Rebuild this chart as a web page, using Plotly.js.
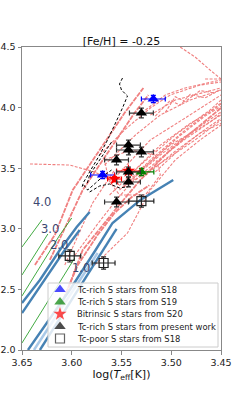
<!DOCTYPE html>
<html>
<head>
<meta charset="utf-8">
<script src="https://cdn.plot.ly/plotly-3.0.1.min.js"></script>
<style>html,body{margin:0;padding:0;background:#fff;}#chart{width:247px;height:394px;}</style>
</head>
<body>
<div id="chart"></div>
<script>
// ---------------- DATA (log Teff, log L) ----------------
// Evolutionary tracks (light coral, dashed) - main bands (drawn heavier)
const agbTrack01T = [3.637,3.617,3.599,3.572,3.547,3.528];
const agbTrack01L = [2.701,2.949,3.320,3.650,3.955,4.162];
const agbTrack02T = [3.622,3.589,3.562,3.537,3.523];
const agbTrack02L = [2.743,3.320,3.650,3.955,4.104];
const agbTrack03T = [3.612,3.589,3.554,3.531,3.501,3.471,3.450];
const agbTrack03L = [2.330,2.825,3.180,3.403,3.650,3.856,3.997];
const agbTrack20T = [3.613,3.594,3.574,3.557,3.540,3.522];
const agbTrack20L = [2.330,2.700,2.950,3.130,3.260,3.360];
// finer tracks
const agbTrack04T = [3.577,3.544,3.521,3.496,3.471,3.450];
const agbTrack04L = [2.701,2.965,3.320,3.568,3.733,3.856];
const agbTrack05T = [3.607,3.579,3.557];
const agbTrack05L = [2.701,3.213,3.485];
const agbTrack06T = [3.552,3.521,3.486,3.450];
const agbTrack06L = [3.320,3.568,3.815,4.038];
const agbTrack07T = [3.546,3.511,3.481,3.450];
const agbTrack07L = [3.361,3.609,3.790,3.964];
const agbTrack08T = [3.536,3.506,3.476,3.450];
const agbTrack08L = [3.403,3.568,3.733,3.898];
const agbTrack09T = [3.562,3.531,3.496,3.461,3.450];
const agbTrack09L = [3.279,3.526,3.774,3.980,4.063];
const agbTrack10T = [3.531,3.501,3.471,3.450];
const agbTrack10L = [3.485,3.691,3.832,3.939];
const agbTrack11T = [3.557,3.521,3.486,3.450];
const agbTrack11L = [3.419,3.733,3.914,4.104];
const agbTrack12T = [3.572,3.547,3.521,3.501,3.471,3.450];
const agbTrack12L = [3.609,3.815,3.997,4.104,4.186,4.211];
const agbTrack13T = [3.567,3.536,3.511,3.481,3.450];
const agbTrack13L = [3.526,3.774,3.939,4.063,4.145];
const agbTrack14T = [3.526,3.506,3.486,3.450];
const agbTrack14L = [3.980,4.104,4.162,4.228];
const agbTrack15T = [3.521,3.496,3.450];
const agbTrack15L = [3.939,4.063,4.162];
const agbTrack16T = [3.491,3.476,3.461,3.450];
const agbTrack16L = [4.500,4.417,4.310,4.236];
const agbTrack17T = [3.466,3.450];
const agbTrack17L = [4.236,4.236];
const agbTrack18T = [3.642,3.602,3.577,3.552];
const agbTrack18L = [3.535,3.526,3.469,3.361];
const agbTrack19T = [3.567,3.541,3.516,3.511,3.526,3.552,3.563,3.567];
const agbTrack19L = [3.568,3.650,3.609,3.444,3.279,3.279,3.403,3.568];
const agbTrack21T = [3.548,3.516,3.491,3.466,3.450];
const agbTrack21L = [3.340,3.590,3.770,3.930,4.010];
const agbTrack22T = [3.540,3.511,3.486,3.461,3.450];
const agbTrack22L = [3.380,3.580,3.740,3.880,3.950];
const agbTrack23T = [3.526,3.496,3.466,3.450];
const agbTrack23L = [3.440,3.640,3.820,3.910];
const agbTrack24T = [3.516,3.491,3.471,3.450];
const agbTrack24L = [3.470,3.660,3.790,3.870];
const agbTrack25T = [3.541,3.511,3.481,3.456,3.450];
const agbTrack25L = [3.450,3.690,3.870,3.990,4.030];
const agbTrack26T = [3.516,3.501,3.491,3.481,3.466,3.450];
const agbTrack26L = [3.930,4.060,4.020,4.110,4.080,4.150];
const agbTrack27T = [3.506,3.496,3.486,3.471,3.456];
const agbTrack27L = [3.960,4.090,4.050,4.140,4.120];
const agbTrack28T = [3.597,3.574,3.554,3.536];
const agbTrack28L = [2.780,3.040,3.250,3.420];

// Green lines
const greenLine1T = [3.650,3.630];
const greenLine1L = [2.850,3.073];
const greenLine2T = [3.650,3.624];
const greenLine2L = [2.619,2.957];
const greenLine3T = [3.650,3.632,3.612,3.600];
const greenLine3L = [2.446,2.685,2.949,3.089];
const greenLine4T = [3.650,3.597];
const greenLine4L = [2.058,2.759];

// Blue (RGB) tracks
const rgbTrackA1T = [3.650,3.632,3.612,3.595,3.582];
const rgbTrackA1L = [2.388,2.578,2.825,3.015,3.139];
const rgbTrackA2T = [3.650,3.627,3.607,3.592];
const rgbTrackA2L = [2.305,2.578,2.825,2.990];
const rgbTrackB1T = [3.644,3.602,3.576,3.559,3.531,3.514,3.498];
const rgbTrackB1L = [2.000,2.495,2.825,3.048,3.238,3.320,3.403];
const rgbTrackB2T = [3.632,3.594,3.572,3.555];
const rgbTrackB2L = [2.000,2.495,2.784,3.000];
const rgbTrackB3T = [3.638,3.598,3.574];
const rgbTrackB3L = [2.000,2.495,2.800];

// Black dashed track
const dashTrack1T = [3.549,3.552,3.550,3.544,3.549,3.557,3.564,3.572,3.580,3.588,3.590];
const dashTrack1L = [4.244,4.195,4.145,4.096,3.997,3.856,3.733,3.609,3.502,3.386,3.337];
const dashTrack2T = [3.588,3.584,3.576,3.567,3.560];
const dashTrack2L = [3.361,3.320,3.378,3.444,3.485];
const dashTrack3T = [3.582,3.572,3.562,3.552,3.540];
const dashTrack3L = [3.304,3.353,3.370,3.337,3.353];
const dashTrack4T = [3.560,3.572,3.582,3.585];
const dashTrack4L = [3.716,3.568,3.444,3.361];

// Stars
const s18RichT = [3.518,3.569];
const s18RichL = [4.071,3.444];
const s18RichTerr = [0.012,0.012];
const s18RichLerr = [0.03,0.03];

const s19RichT = [3.530];
const s19RichL = [3.469];
const s19RichTerr = [0.0125];
const s19RichLerr = [0.03];

const s20BitT = [3.557,3.543];
const s20BitL = [3.411,3.477];
const s20BitTerr = [0.007,0.012];
const s20BitLerr = [0.02,0.02];

const presentT = [3.530,3.543,3.543,3.530,3.555,3.543,3.543,3.555];
const presentL = [3.955,3.691,3.650,3.634,3.568,3.469,3.386,3.221];
const presentTerr = [0.012,0.012,0.012,0.012,0.012,0.012,0.012,0.012];
const presentLerr = [0.04,0.04,0.04,0.04,0.04,0.04,0.04,0.04];

const s18PoorT = [3.530,3.602,3.568];
const s18PoorL = [3.229,2.776,2.718];
const s18PoorTerr = [0.0125,0.011,0.0115];
const s18PoorLerr = [0.05,0.05,0.05];

// Mass labels
const massLabels = ['4.0','3.0','2.0','1.0'];
const massLabelT = [3.630,3.622,3.613,3.591];
const massLabelL = [3.221,2.998,2.866,2.676];

// Legend text
const legendNames = ['Tc-rich S stars from S18','Tc-rich S stars from S19','Bitrinsic S stars from S20','Tc-rich S stars from present work','Tc-poor S stars from S18'];

// Axis ticks
const xTicks = [3.65,3.60,3.55,3.50,3.45];
const yTicks = [2.0,2.5,3.0,3.5,4.0,4.5];

// ---------------- BUILD ----------------
const FONT = 'DejaVu Sans, Arial, sans-serif';
const traces = [];
function addLine(t, l, color, width, dash, opacity) {
  traces.push({type:'scatter', mode:'lines', x:t, y:l, line:{color:color, width:width, dash:dash},
    opacity:opacity, hoverinfo:'skip', showlegend:false});
}
const agbBands = [[agbTrack01T,agbTrack01L],[agbTrack02T,agbTrack02L],[agbTrack03T,agbTrack03L],[agbTrack20T,agbTrack20L]];
const agbFine = [
  [agbTrack04T,agbTrack04L],[agbTrack05T,agbTrack05L],[agbTrack06T,agbTrack06L],[agbTrack07T,agbTrack07L],
  [agbTrack08T,agbTrack08L],[agbTrack09T,agbTrack09L],[agbTrack10T,agbTrack10L],[agbTrack11T,agbTrack11L],
  [agbTrack12T,agbTrack12L],[agbTrack13T,agbTrack13L],[agbTrack14T,agbTrack14L],[agbTrack15T,agbTrack15L],
  [agbTrack16T,agbTrack16L],[agbTrack17T,agbTrack17L],[agbTrack18T,agbTrack18L],[agbTrack19T,agbTrack19L],
  [agbTrack21T,agbTrack21L],[agbTrack22T,agbTrack22L],[agbTrack23T,agbTrack23L],[agbTrack24T,agbTrack24L],
  [agbTrack25T,agbTrack25L],[agbTrack26T,agbTrack26L],[agbTrack27T,agbTrack27L],[agbTrack28T,agbTrack28L]
];
agbFine.forEach(function(tr){ addLine(tr[0], tr[1], '#f08080', 1.1, '3px,1.5px', 1); });
agbBands.forEach(function(tr){ addLine(tr[0], tr[1], '#f08080', 1.8, '5px,1px', 1); });

[[greenLine1T,greenLine1L],[greenLine2T,greenLine2L],[greenLine3T,greenLine3L],[greenLine4T,greenLine4L]]
  .forEach(function(tr){ addLine(tr[0], tr[1], '#2ca02c', 0.9, 'solid', 1); });

addLine(rgbTrackB3T, rgbTrackB3L, '#a9c9e8', 2.5, 'solid', 1);
[[rgbTrackA1T,rgbTrackA1L],[rgbTrackA2T,rgbTrackA2L],[rgbTrackB1T,rgbTrackB1L],[rgbTrackB2T,rgbTrackB2L]]
  .forEach(function(tr){ addLine(tr[0], tr[1], '#4682b4', 2.4, 'solid', 1); });

[[dashTrack1T,dashTrack1L],[dashTrack2T,dashTrack2L],[dashTrack3T,dashTrack3L],[dashTrack4T,dashTrack4L]]
  .forEach(function(tr){ addLine(tr[0], tr[1], '#000000', 1, '3px,2px', 1); });

function addStars(t, l, te, le, color, symbol, size, barColor) {
  traces.push({type:'scatter', mode:'markers', x:t, y:l, hoverinfo:'skip', showlegend:false,
    marker:{symbol:symbol, size:size, color:color, line:{width: symbol==='square-open'?1.2:0, color:color}},
    error_x:{type:'data', array:te, color:barColor, thickness:1.2, width:2.5},
    error_y:{type:'data', array:le, color:barColor, thickness:1.2, width:2.5}});
}
addStars(s18RichT, s18RichL, s18RichTerr, s18RichLerr, '#0000ff', 'triangle-up', 10, '#0000ff');
addStars(s19RichT, s19RichL, s19RichTerr, s19RichLerr, '#008000', 'triangle-up', 10, '#008000');
addStars(s20BitT, s20BitL, s20BitTerr, s20BitLerr, '#ff0000', 'star', 10, '#ff0000');
addStars(presentT, presentL, presentTerr, presentLerr, '#000000', 'triangle-up', 10, '#333333');
addStars(s18PoorT, s18PoorL, s18PoorTerr, s18PoorLerr, '#222222', 'square-open', 9, '#222222');

// ----- Legend drawn on a pixel-unit overlay axis -----
const legBoxX = [48,218,218,48,48];
const legBoxY = [283,283,347,347,283];
traces.push({type:'scatter', mode:'lines', x:legBoxX, y:legBoxY, xaxis:'x2', yaxis:'y2',
  fill:'toself', fillcolor:'rgba(255,255,255,0.82)', line:{color:'#cccccc', width:1},
  hoverinfo:'skip', showlegend:false});
const legRowY = [289.5,302,314,326.5,338.5];
traces.push({type:'scatter', mode:'markers', x:[60,60,60,60,60], y:legRowY, xaxis:'x2', yaxis:'y2',
  hoverinfo:'skip', showlegend:false,
  marker:{symbol:['triangle-up','triangle-up','star','triangle-up','square-open'],
    size:[10,10,10,10,9], color:['#0000ff','#008000','#ff0000','#000000','#222222'],
    line:{width:[0,0,0,0,1.2], color:'#222222'}}});

const annotations = [];
massLabels.forEach(function(txt,i){
  annotations.push({x:massLabelT[i], y:massLabelL[i], xref:'x', yref:'y', text:txt, showarrow:false,
    xanchor:'center', yanchor:'middle', font:{family:FONT, size:11.5, color:'#3b4770'}});
});
legendNames.forEach(function(txt,i){
  annotations.push({x:75, y:legRowY[i], xref:'x2', yref:'y2', text:txt, showarrow:false,
    xanchor:'left', yanchor:'middle', font:{family:FONT, size:8.4, color:'#222222'}});
});

const layout = {
  width:247, height:394,
  margin:{l:22, r:26, t:47, b:44, pad:0},
  paper_bgcolor:'#ffffff', plot_bgcolor:'#ffffff',
  showlegend:false,
  font:{family:FONT, size:9.5, color:'#222222'},
  title:{text:'[Fe/H] = -0.25', font:{family:FONT, size:11, color:'#111111'},
    x:0.5, xref:'paper', xanchor:'center', y:1, yref:'paper', yanchor:'bottom', pad:{b:2}},
  xaxis:{range:[3.65,3.45], tickvals:xTicks, ticktext:xTicks.map(function(v){return v.toFixed(2);}),
    showgrid:false, zeroline:false, showline:true, mirror:true, linecolor:'#888888', linewidth:1,
    ticks:'outside', ticklen:3.5, tickwidth:1, tickcolor:'#888888',
    tickfont:{family:FONT, size:9.5, color:'#222222'},
    title:{text:'log(<i>T</i><sub>eff</sub>[K])', font:{family:FONT, size:11, color:'#111111'}, standoff:2}},
  yaxis:{range:[2.0,4.5], tickvals:yTicks, ticktext:yTicks.map(function(v){return v.toFixed(1);}),
    showgrid:false, zeroline:false, showline:true, mirror:true, linecolor:'#888888', linewidth:1,
    ticks:'outside', ticklen:3.5, tickwidth:1, tickcolor:'#888888',
    tickfont:{family:FONT, size:9.5, color:'#222222'}},
  xaxis2:{overlaying:'x', range:[22,221], visible:false, fixedrange:true},
  yaxis2:{overlaying:'y', range:[350,47], visible:false, fixedrange:true},
  annotations:annotations
};

Plotly.newPlot('chart', traces, layout, {staticPlot:true, displayModeBar:false});
</script>
</body>
</html>
